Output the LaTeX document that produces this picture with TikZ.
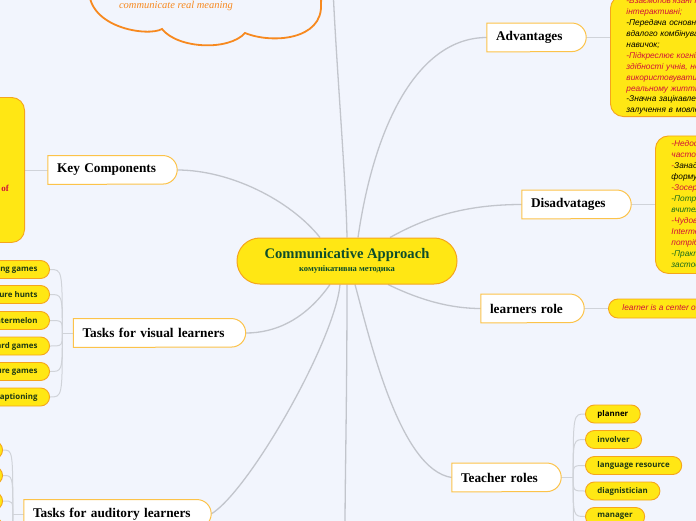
\documentclass[tikz,border=0pt]{standalone}
\usepackage{fontspec}
\setmainfont{Liberation Serif}
\newfontfamily\uafont{Liberation Sans}
\newfontfamily\pillfont{Open Sans}
\usetikzlibrary{backgrounds}
\definecolor{bg}{HTML}{F2F5FD}
\definecolor{myyellow}{HTML}{FFE714}
\definecolor{yborder}{HTML}{F5A51C}
\definecolor{tborder}{HTML}{FCC34A}
\definecolor{cloudor}{HTML}{F7891F}
\definecolor{linegray}{HTML}{C2C5CC}
\definecolor{sublinegray}{HTML}{D0D3D9}
\definecolor{darkgreen}{HTML}{0D4D2B}
\definecolor{uared}{HTML}{D0103A}
\definecolor{uagreen}{HTML}{1B6B1B}
\definecolor{pilltext}{HTML}{1E3A14}
\newcommand\topicshape[1]{\path[topicshapestyle] (#1.south west) -- (#1.north west) -- ([xshift=-14.25pt]#1.north east) arc[start angle=90, end angle=-90, radius=14.25pt] -- cycle;}
\begin{document}
\begin{tikzpicture}[x=1pt, y=-1pt,
  conn/.style={draw=linegray, line width=1.3pt},
  subconn/.style={draw=sublinegray, line width=1pt},
  topic/.style={rectangle, minimum height=28.5pt, inner ysep=0pt, inner xsep=9pt, align=left, text=black, font=\bfseries\fontsize{13.3}{15}\selectfont},
  topicshapestyle/.style={fill=white, draw=tborder, line width=1pt},
  pill/.style={rectangle, rounded corners=9pt, fill=myyellow, draw=yborder, line width=0.9pt, minimum height=18pt, inner ysep=0pt, inner xsep=12pt, font=\pillfont\bfseries\fontsize{7.9}{9}\selectfont, text=pilltext},
  bigbox/.style={rectangle, rounded corners=13pt, fill=myyellow, draw=yborder, line width=0.9pt},
  uatext/.style={align=left, font=\uafont\itshape\fontsize{8.3}{10.95}\selectfont}
]
\useasboundingbox (0,0) rectangle (696,520);

% cloud
\draw[cloudor, line width=1.8pt, fill=bg] (89,-12) .. controls (87,28) and (148,37) .. (162,29) .. controls (178,49) and (229,51) .. (245,33) .. controls (272,44) and (323,40) .. (321,4) .. controls (321,-2) and (322,-8) .. (323,-12);
\node[text=cloudor, font=\itshape\fontsize{10.5}{12}\selectfont, inner sep=0pt] (cloudtxt) at (176,5.5) {communicate real meaning};

% central node
\node[rectangle, rounded corners=22.9pt, fill=myyellow, draw=yborder, line width=1pt, minimum width=220pt, minimum height=46pt, inner sep=0pt, align=center, text=darkgreen] (ca) at (347,261)
  {{\bfseries\fontsize{14.6}{16}\selectfont Communicative Approach}\\[1.5pt]{\bfseries\fontsize{8.5}{9}\selectfont комунікативна методика}};

% topic nodes
\node[topic, text width=111pt] (kc) at (112.5,170) {Key Components};
\node[topic, text width=81pt] (adv) at (536.5,37.5) {Advantages};
\node[topic, text width=91pt] (dis) at (576.5,204.5) {Disadvatages};
\node[topic, text width=85pt] (lr) at (532.5,308.5) {learners role};
\node[topic, text width=154pt] (vis) at (159.5,333) {Tasks for visual learners};
\node[topic, text width=91pt] (tea) at (506.5,477.5) {Teacher roles};
\node[topic, text width=169pt] (aud) at (117.5,514) {Tasks for auditory learners};

% big yellow boxes
\node[bigbox, anchor=north east, minimum width=150pt, minimum height=145pt] (kcbox) at (25,97) {};
\node[anchor=east, text=uared, font=\bfseries\fontsize{9}{10}\selectfont, inner sep=0pt] (kcof) at (9,188) {of};

\node[bigbox, uatext, anchor=south west, minimum height=121pt, inner xsep=16pt, inner ysep=0pt, text width=150pt] (advbox) at (610,117) {%
\textcolor{uared}{-Взаємопов'язані та}\\
\textcolor{uared}{інтерактивні;}\\
-Передача основних знань\\
вдалого комбінування\\
навичок;\\
\textcolor{uared}{-Підкреслює когнітивні}\\
\textcolor{uared}{здібності учнів, новий}\\
\textcolor{uared}{використовувати мову в}\\
\textcolor{uared}{реальному житті;}\\
-Значна зацікавленість та\\
залучення в мовлення.};

\node[bigbox, uatext, anchor=north west, minimum height=137.5pt, inner xsep=16pt, inner ysep=0pt, text width=160pt] (disbox) at (655,135.5) {%
\textcolor{uared}{-Недостатня увага до}\\
\textcolor{uared}{частотних помилок;}\\
\textcolor{uared}{-}Занадто мало уваги до\\
формування навичок;\\
\textcolor{uared}{-Зосередженість на мовленні;}\\
\textcolor{uagreen}{-Потребує високої кваліфікації}\\
\textcolor{uagreen}{вчителя;}\\
\textcolor{uared}{-Чудово підходить для рівнів}\\
\textcolor{uared}{Intermediate і вище, але}\\
\textcolor{uared}{потрібна адаптація;}\\
\textcolor{uagreen}{-Практично важко}\\
\textcolor{uagreen}{застосовувати у великих групах.}};

\node[pill, anchor=west, rounded corners=9.5pt, minimum height=19pt, inner xsep=14pt, text=uared, font=\uafont\itshape\fontsize{8.3}{10}\selectfont] (lrc) at (608,308.5) {learner is a center of the learning process};

% visual learners pills
\foreach \y/\t/\n in {269.5/Guessing games/v1, 294.5/Treasure hunts/v2, 320.5/Watermelon/v3, 346/Board games/v4, 371.5/Picture games/v5, 397/Captioning/v6}
  \node[pill, anchor=east] (\n) at (50,\y) {\t};

% teacher roles pills
\node[pill, anchor=west, text=black] (t1) at (585,414) {planner};
\node[pill, anchor=west] (t2) at (585,439.5) {involver};
\node[pill, anchor=west] (t3) at (585,465.5) {language resource};
\node[pill, anchor=west] (t4) at (585,491) {diagnistician};
\node[pill, anchor=west] (t5) at (585,516.5) {manager};
\node[pill, anchor=west, minimum width=60pt] (t6) at (585,542) {};

% auditory learners pills (off the left edge)
\foreach \y/\n in {450/a1, 475.5/a2, 501/a3, 526.5/a4, 552/a5, 577.5/a6}
  \node[pill, anchor=east, minimum width=70pt] (\n) at (3,\y) {};

\coordinate (topout) at (333,-12);
\coordinate (botout) at (345,530);
\coordinate (vt) at ([xshift=-11pt]vis.west);
\coordinate (tt) at ([xshift=12pt]tea.east);
\coordinate (at) at ([xshift=-11pt]aud.west);

\begin{scope}[on background layer]
  \fill[bg] (-5,-5) rectangle (701,525);
  % main connectors
  \draw[conn] ([xshift=-27pt]ca.north) .. controls (290,200) and (230,170) .. (kc.east);
  \draw[conn] (ca.north) .. controls (346,180) and (336,60) .. (topout);
  \draw[conn] ([xshift=11pt]ca.north) .. controls (375,120) and (420,37.5) .. (adv.west);
  \draw[conn] ([xshift=43pt]ca.north) .. controls (430,215) and (470,204.5) .. (dis.west);
  \draw[conn] ([xshift=-17pt]ca.south) .. controls (305,320) and (275,333) .. (vis.east);
  \draw[conn] ([xshift=-7pt]ca.south) .. controls (335,340) and (250,490) .. (aud.east);
  \draw[conn] (ca.south) .. controls (347,400) and (345,480) .. (botout);
  \draw[conn] ([xshift=8pt]ca.south) .. controls (370,340) and (400,470) .. (tea.west);
  \draw[conn] ([xshift=41pt]ca.south) .. controls (420,300) and (450,308.5) .. (lr.west);
  % sub connectors
  \draw[subconn] (adv.east) -- (adv.east -| advbox.west);
  \draw[subconn] (dis.east) -- (dis.east -| disbox.west);
  \draw[subconn] (lr.east) -- (lrc.west);
  \draw[subconn] (kcbox.east |- kc.west) -- (kc.west);
  \draw[subconn] (vis.west) -- (vt);
  \foreach \n in {v1,v2,v3,v4,v5,v6}
    \draw[subconn] (vt) .. controls (vt |- \n.east) .. (\n.east);
  \draw[subconn] (tea.east) -- (tt);
  \foreach \n in {t1,t2,t3,t4,t5,t6}
    \draw[subconn] (tt) .. controls (tt |- \n.west) .. (\n.west);
  \draw[subconn] (aud.west) -- (at);
  \foreach \n in {a1,a2,a3,a4,a5,a6}
    \draw[subconn] (at) .. controls (at |- \n.east) .. (\n.east);
  % topic shapes
  \foreach \n in {kc,adv,dis,lr,vis,tea,aud}
    \topicshape{\n};
\end{scope}
\end{tikzpicture}
\end{document}
